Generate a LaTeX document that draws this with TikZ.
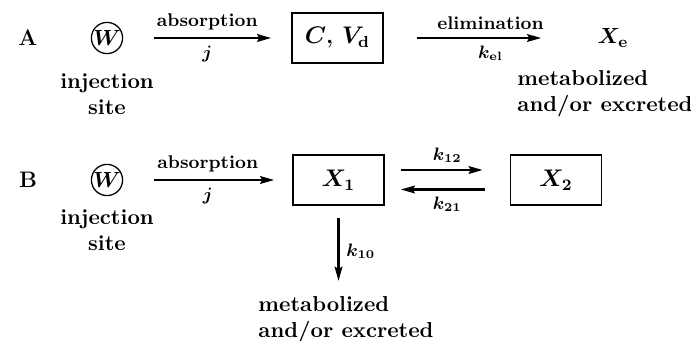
\documentclass[tikz,border=0pt]{standalone}
\usepackage{amsmath,amssymb}
\usepackage{tikz}
\usetikzlibrary{positioning,arrows.meta}
\tikzset{
  caja/.style={rectangle, draw, line width=0.75pt, minimum width=45.5pt,
    minimum height=25pt, inner sep=0pt, font=\fontsize{11.5}{13}\selectfont\bfseries\boldmath},
  circulo/.style={circle, draw, line width=0.65pt, minimum size=15pt, inner sep=0pt,
    font=\fontsize{10.5}{12}\selectfont\boldmath},
  letra/.style={inner sep=0pt, font=\fontsize{11.2}{13}\selectfont\bfseries},
  texto/.style={inner sep=0pt, align=center, font=\fontsize{10.8}{13}\selectfont\bfseries\boldmath},
  flecha/.style={-{Stealth[length=7pt, width=3.8pt, inset=1pt]}, line width=1.3pt},
  etq/.style={font=\fontsize{9.2}{11}\selectfont\bfseries\boldmath},
}
\begin{document}
\begin{tikzpicture}[node distance=1.0cm, on grid]
  \useasboundingbox (0,0) rectangle (345.5pt,-170.5pt);
  % esquema A
  \node[letra] (labA) at (14pt,-19pt) {A};
  \node[circulo, right=39.5pt of labA] (wA) {$W$};
  \node[caja, right=115.25pt of wA] (cA) {$C$, $V_{\mathbf{d}}$};
  \node[texto, right=137.75pt of cA] (xe) {$X_{\mathbf{e}}$};
  \node[texto, below=28pt of wA] (injA) {injection\\site};
  \node[texto, align=left, below=27.75pt of xe, xshift=-4pt] (metA) {metabolized\\and/or excreted};
  \draw[flecha, shorten <=15.5pt, shorten >=10pt] (wA) --
    node[etq, above] {absorption} node[etq, below] {$j$} (cA);
  \draw[flecha, shorten <=16.5pt, shorten >=28pt] (cA) --
    node[etq, above] {elimination} node[etq, below] {$k_{\mathbf{el}}$} (xe);
  % esquema B
  \node[letra, below=71pt of labA] (labB) {B};
  \node[circulo, right=39.5pt of labB] (wB) {$W$};
  \node[caja, right=115.75pt of wB] (c1) {$X_1$};
  \node[caja, right=108.75pt of c1] (c2) {$X_2$};
  \node[texto, below=25.25pt of wB] (injB) {injection\\site};
  \node[texto, align=left, below=69.75pt of c1, xshift=3.75pt] (metB) {metabolized\\and/or excreted};
  \draw[flecha, shorten <=15.5pt, shorten >=9pt] (wB) --
    node[etq, above] {absorption} node[etq, below] {$j$} (c1);
  \draw[flecha, shorten <=8pt, shorten >=13.5pt] ([yshift=5pt]c1.east) --
    node[etq, above] {$k_{12}$} ([yshift=5pt]c2.west);
  \draw[flecha, shorten <=12.5pt, shorten >=8pt] ([yshift=-4.75pt]c2.west) --
    node[etq, below] {$k_{21}$} ([yshift=-4.75pt]c1.east);
  \draw[flecha, shorten <=6pt, shorten >=7.5pt] (c1) -- (c1 |- metB.north)
    node[etq, right, midway] {$k_{10}$};
\end{tikzpicture}
\end{document}
